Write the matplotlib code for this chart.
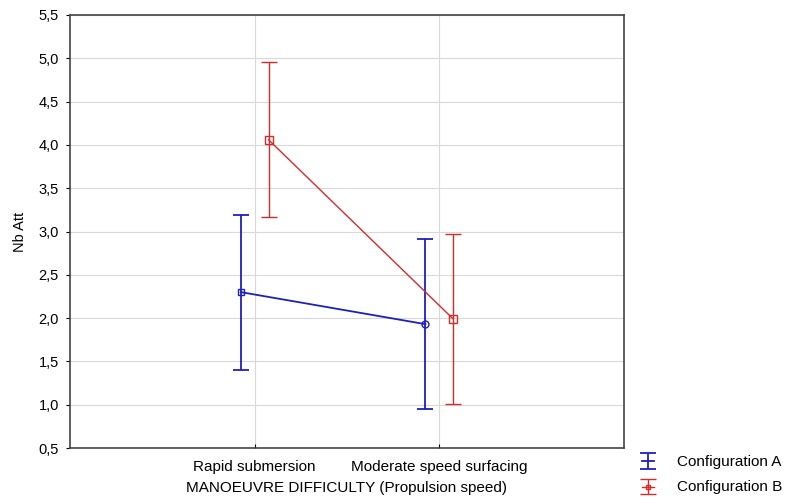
import matplotlib.pyplot as plt
from matplotlib.ticker import FuncFormatter

plt.rcParams['font.family'] = ['Liberation Sans', 'DejaVu Sans']

categories = ['Rapid submersion', 'Moderate speed surfacing']
mean_a = [2.30, 1.93]
low_a = [1.40, 0.95]
high_a = [3.19, 2.91]
mean_b = [4.06, 1.99]
low_b = [3.17, 1.01]
high_b = [4.96, 2.97]
markers_a = ['s', 'o']

blue = '#1f1fbf'
red = '#d42a2a'

fig = plt.figure(figsize=(7.86, 4.97), dpi=100)
ax = fig.add_axes([70 / 786, 1 - 448 / 497, 554 / 786, 433 / 497])

xa = [i + 1 - 0.075 for i in range(len(categories))]
xb = [i + 1 + 0.075 for i in range(len(categories))]

eb_a = ax.errorbar(xa, mean_a, yerr=[[m - l for m, l in zip(mean_a, low_a)], [h - m for m, h in zip(mean_a, high_a)]],
                   color=blue, lw=1.3, capsize=6, capthick=1.3, fmt='-')
for x, y, mk in zip(xa, mean_a, markers_a):
    ax.plot(x, y, marker=mk, ms=5, mfc='none', mec=blue, mew=1.0, ls='none')
eb_b = ax.errorbar(xb, mean_b, yerr=[[m - l for m, l in zip(mean_b, low_b)], [h - m for m, h in zip(mean_b, high_b)]],
                   color=red, lw=1.0, capsize=6, capthick=1.0, fmt='-', marker='s', ms=6, mfc='none', mec=red, mew=1.0)

ax.set_xlim(0, 3)
ax.set_ylim(0.5, 5.5)
ax.set_xticks([1, 2])
ax.set_xticklabels(categories, fontsize=11)
ax.set_yticks([0.5 + 0.5 * i for i in range(11)])
ax.yaxis.set_major_formatter(FuncFormatter(lambda v, p: f'{v:.1f}'.replace('.', ',')))
ax.tick_params(axis='y', labelsize=10.5, length=3, direction='out', pad=5)
ax.tick_params(axis='x', length=3, direction='in', pad=9)
ax.grid(True, color='#d8d8d8', lw=0.8)
ax.set_axisbelow(True)
for s in ax.spines.values():
    s.set_color('#444444')
    s.set_linewidth(1.2)

ax.set_ylabel('Nb Att', fontsize=10.5, labelpad=8)
ax.set_xlabel('MANOEUVRE DIFFICULTY (Propulsion speed)', fontsize=11, labelpad=5)

fig.legend([eb_a, eb_b], ['Configuration A', 'Configuration B'], loc='lower left',
           bbox_to_anchor=(628 / 786, -0.022), frameon=False, fontsize=11,
           handlelength=0.8, handleheight=0.4, labelspacing=0.75, handletextpad=1.5, markerscale=0.6)

fig.savefig('out.png', dpi=100)
